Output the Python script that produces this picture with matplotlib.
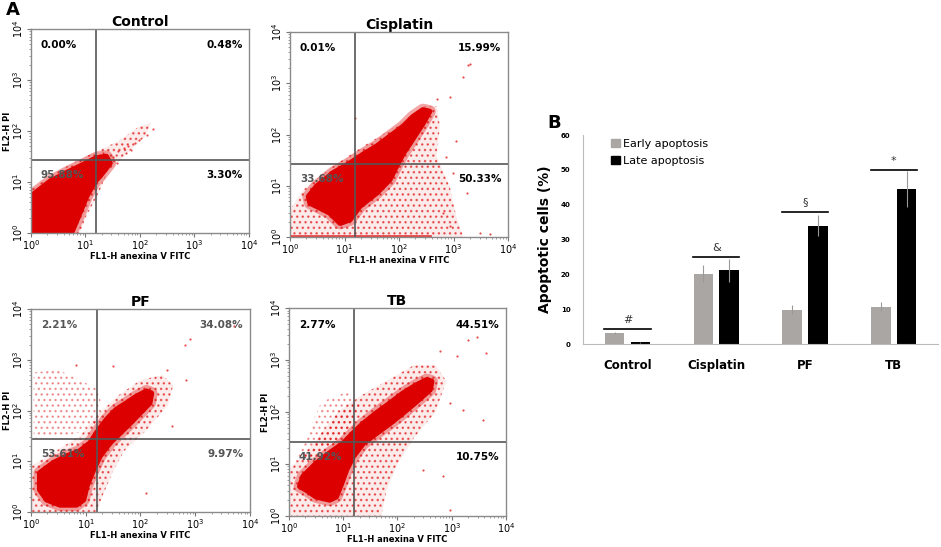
import matplotlib.pyplot as plt
import numpy as np
from matplotlib.patches import Polygon, Patch

# ---------------- data (log10 decades) ----------------
quad_x = 1.2      # vertical gate, log10 FL1
quad_y = 1.43     # horizontal gate, log10 FL2

control_core = [(0, 0), (0, 0.72), (0.35, 1.01), (0.65, 1.18), (0.96, 1.34), (1.20, 1.47),
                (1.38, 1.50), (1.45, 1.37), (1.26, 1.11), (1.17, 1.01), (1.02, 0.72),
                (0.87, 0.33), (0.74, 0)]
control_halo = [(0, 0), (0, 0.85), (0.4, 1.15), (0.9, 1.45), (1.25, 1.62), (1.6, 1.8),
                (2.0, 2.1), (2.2, 2.15), (2.1, 1.9), (1.7, 1.5), (1.4, 1.2), (1.25, 0.8),
                (1.0, 0.3), (0.9, 0)]
control_dots = [(1.51, 1.50), (1.60, 1.60), (1.70, 1.67), (1.78, 1.70), (1.84, 1.63),
                (1.90, 1.76), (1.99, 1.83), (2.12, 1.93), (2.24, 2.04), (1.32, 1.56),
                (1.75, 1.57), (1.57, 1.37)]

cis_core = [(0.34, 0.79), (0.49, 0.99), (0.79, 1.25), (1.10, 1.44), (1.34, 1.61), (1.59, 1.77),
            (1.83, 1.96), (2.08, 2.16), (2.26, 2.35), (2.44, 2.48), (2.56, 2.45), (2.44, 2.22),
            (2.20, 1.83), (2.08, 1.64), (1.95, 1.38), (1.83, 1.12), (1.59, 0.86), (1.28, 0.60),
            (1.10, 0.34), (0.92, 0.27), (0.73, 0.47), (0.49, 0.60), (0.37, 0.66)]
cis_halo = [(0, 0), (0, 0.53), (0.24, 0.92), (0.79, 1.38), (1.34, 1.77), (1.95, 2.16),
            (2.44, 2.55), (2.69, 2.55), (2.75, 2.16), (2.69, 1.57), (2.93, 0.99), (3.05, 0.40),
            (3.18, 0)]
cis_dots = [(3.27, 3.36), (3.31, 3.38), (3.18, 3.13), (2.93, 2.74), (2.69, 2.69), (3.05, 1.87),
            (3.24, 0.86), (2.99, 1.25), (2.87, 1.57), (1.19, 2.32), (3.48, 0.08), (3.66, 0.05),
            (2.81, 0.47), (2.93, 0.21)]

pf_core = [(0.16, 0.77), (0.41, 0.97), (0.65, 1.10), (0.89, 1.20), (1.08, 1.36), (1.20, 1.56),
           (1.38, 1.82), (1.56, 2.02), (1.75, 2.15), (1.93, 2.28), (2.11, 2.38), (2.20, 2.34),
           (2.17, 2.15), (1.99, 1.95), (1.81, 1.75), (1.63, 1.56), (1.44, 1.36), (1.26, 1.10),
           (1.14, 0.83), (1.02, 0.51), (0.96, 0.24), (0.83, 0.14), (0.53, 0.14), (0.29, 0.24),
           (0.16, 0.44)]
pf_halo = [(0, 0), (0, 0.9), (0.3, 1.1), (0.9, 1.5), (1.2, 1.9), (1.6, 2.3), (2.0, 2.6),
           (2.4, 2.7), (2.6, 2.5), (2.5, 2.1), (2.1, 1.6), (1.7, 1.2), (1.5, 0.8), (1.3, 0.3),
           (1.2, 0)]
pf_side = [(0.05, 1.45), (0.05, 2.75), (0.5, 2.8), (0.9, 2.6), (1.25, 2.4), (1.3, 1.8),
           (1.0, 1.6), (0.6, 1.5)]
pf_dots = [(3.70, 3.66), (2.90, 3.40), (2.81, 3.30), (2.48, 2.80), (2.84, 2.61), (2.57, 1.69),
           (2.11, 0.37), (1.50, 2.87), (0.83, 2.90)]

tb_core = [(0.26, 0.76), (0.50, 1.01), (0.75, 1.21), (1.00, 1.40), (1.18, 1.59), (1.37, 1.78),
           (1.61, 1.98), (1.86, 2.17), (2.10, 2.36), (2.35, 2.52), (2.54, 2.62), (2.63, 2.59),
           (2.60, 2.43), (2.35, 2.20), (2.10, 1.98), (1.86, 1.78), (1.61, 1.59), (1.37, 1.40),
           (1.18, 1.14), (1.06, 0.89), (0.97, 0.63), (0.87, 0.37), (0.75, 0.31), (0.50, 0.37),
           (0.32, 0.50), (0.20, 0.57)]
tb_halo = [(0, 0), (0, 0.9), (0.3, 1.2), (0.6, 1.6), (0.9, 2.0), (1.3, 2.3), (1.8, 2.6),
           (2.3, 2.9), (2.7, 2.9), (2.9, 2.6), (2.7, 2.0), (2.3, 1.5), (2.0, 1.0), (1.8, 0.5),
           (1.7, 0)]
tb_side = [(0.05, 1.0), (0.3, 1.5), (0.6, 2.2), (1.1, 2.4), (1.3, 2.1), (1.1, 1.6), (0.6, 1.2)]
tb_dots = [(3.30, 3.39), (3.46, 3.45), (3.64, 3.13), (3.09, 3.07), (2.78, 3.17), (2.97, 2.17),
           (3.21, 2.04), (2.84, 0.76), (2.97, 0.12), (2.47, 0.89), (3.58, 1.85)]

# quadrant percentages: UL, UR, LL, LR
control_pct = ["0.00%", "0.48%", "95.88%", "3.30%"]
cis_pct = ["0.01%", "15.99%", "33.68%", "50.33%"]
pf_pct = ["2.21%", "34.08%", "53.61%", "9.97%"]
tb_pct = ["2.77%", "44.51%", "41.92%", "10.75%"]

# bar chart
groups = ["Control", "Cisplatin", "PF", "TB"]
early = [3.2, 20.2, 9.9, 10.7]
early_err = [0.3, 2.5, 1.2, 1.3]
late = [0.5, 21.2, 34.0, 44.5]
late_err = [0.2, 3.3, 3.0, 5.3]
sig_marks = ["#", "&", "§", "*"]
sig_level = [4.3, 25.0, 38.0, 50.0]

RED = "#dc0000"
fig = plt.figure(figsize=(9.41, 5.47), dpi=100)


def flow_panel(rect, title, core, halo, dots, pct, pct_grey, side=None, xlab="FL1-H anexina V FITC",
               ylab="FL2-H PI", base_line=None):
    ax = fig.add_axes(rect)
    ax.add_patch(Polygon(halo, closed=True, facecolor=RED, alpha=0.08, lw=0))
    ax.add_patch(Polygon(halo, closed=True, facecolor="none", edgecolor=RED, hatch="...", lw=0, alpha=0.55))
    if side is not None:
        ax.add_patch(Polygon(side, closed=True, facecolor="none", edgecolor=RED, hatch="...", lw=0, alpha=0.35))
    # soft fringe around the dense core, then the core itself
    ax.add_patch(Polygon(core, closed=True, facecolor="none", edgecolor=RED, lw=9, alpha=0.35,
                         joinstyle="round"))
    ax.add_patch(Polygon(core, closed=True, facecolor=RED, edgecolor=RED, lw=4, joinstyle="round"))
    dx = [p[0] for p in dots]
    dy = [p[1] for p in dots]
    ax.scatter(dx, dy, s=2.5, color=RED, alpha=0.7, lw=0)
    if base_line is not None:
        ax.plot([0, base_line], [0.02, 0.02], color=RED, lw=2, alpha=0.7)
    ax.axvline(quad_x, color="#555555", lw=1.2)
    ax.axhline(quad_y, color="#555555", lw=1.2)
    ax.set_xlim(0, 4)
    ax.set_ylim(0, 4)
    ticks = [0, 1, 2, 3, 4]
    labs = [r"$10^{%d}$" % t for t in ticks]
    ax.set_xticks(ticks)
    ax.set_xticklabels(labs, fontsize=7)
    ax.set_yticks(ticks)
    ax.set_yticklabels(labs, fontsize=7, rotation=90, va="center")
    minor = [k + np.log10(m) for k in range(4) for m in range(2, 10)]
    ax.set_xticks(minor, minor=True)
    ax.set_yticks(minor, minor=True)
    ax.tick_params(which="major", length=3, width=0.8, color="#777777", pad=1)
    ax.tick_params(which="minor", length=1.5, width=0.5, color="#777777")
    for s in ax.spines.values():
        s.set_color("#8a8a8a")
        s.set_linewidth(1.0)
        s.set_zorder(5)
    ax.set_xlabel(xlab, fontsize=6, fontweight="bold", labelpad=0)
    if ylab:
        ax.set_ylabel(ylab, fontsize=6, fontweight="bold", labelpad=0)
    ax.set_title(title, fontsize=10, fontweight="bold", pad=2)
    cols = ["#555555" if g else "black" for g in pct_grey]
    ax.text(0.18, 3.68, pct[0], fontsize=7.5, fontweight="bold", color=cols[0], va="center")
    ax.text(3.88, 3.68, pct[1], fontsize=7.5, fontweight="bold", color=cols[1], va="center", ha="right")
    ax.text(0.18, 1.14, pct[2], fontsize=7.5, fontweight="bold", color=cols[2], va="center")
    ax.text(3.88, 1.14, pct[3], fontsize=7.5, fontweight="bold", color=cols[3], va="center", ha="right")
    return ax


flow_panel([0.0329, 0.574, 0.2317, 0.373], "Control", control_core, control_halo, control_dots,
           control_pct, [0, 0, 1, 0])
flow_panel([0.3082, 0.5667, 0.2317, 0.3748], "Cisplatin", cis_core, cis_halo, cis_dots,
           cis_pct, [0, 0, 1, 0], ylab=None, base_line=2.56)
flow_panel([0.0329, 0.064, 0.2327, 0.371], "PF", pf_core, pf_halo, pf_dots,
           pf_pct, [1, 1, 1, 1], side=pf_side)
flow_panel([0.3071, 0.0567, 0.2306, 0.380], "TB", tb_core, tb_halo, tb_dots,
           tb_pct, [0, 0, 1, 0], side=tb_side)

fig.text(0.006, 0.999, "A", fontsize=13, fontweight="bold", va="top")
fig.text(0.582, 0.775, "B", fontsize=13, fontweight="bold", va="center")

# ---------------- bar chart ----------------
axb = fig.add_axes([0.6196, 0.3711, 0.3773, 0.382])
x = np.arange(len(groups))
w = 0.22
axb.bar(x - 0.145, early, w, color="#a9a6a4")
axb.bar(x + 0.145, late, w, color="black")
axb.errorbar(x - 0.145, early, yerr=early_err, fmt="none", ecolor="#999999", elinewidth=0.8)
axb.errorbar(x + 0.145, late, yerr=late_err, fmt="none", ecolor="#999999", elinewidth=0.8)
for i in range(len(groups)):
    axb.plot([x[i] - 0.26, x[i] + 0.26], [sig_level[i], sig_level[i]], color="black", lw=1.2)
    axb.text(x[i], sig_level[i] + 1.2, sig_marks[i], ha="center", va="bottom", fontsize=8, color="#333333")
axb.set_xlim(-0.5, 3.5)
axb.set_ylim(0, 60)
axb.set_yticks(range(0, 61, 10))
axb.set_yticklabels([str(v) for v in range(0, 61, 10)], fontsize=5, fontweight="bold")
axb.set_xticks(x)
axb.set_xticklabels(groups, fontsize=8.5, fontweight="bold")
axb.tick_params(axis="x", length=0, pad=11)
axb.tick_params(axis="y", length=0, pad=9)
axb.spines["top"].set_visible(False)
axb.spines["right"].set_visible(False)
axb.spines["left"].set_color("#bbbbbb")
axb.spines["bottom"].set_color("#bbbbbb")
axb.set_ylabel("Apoptotic cells (%)", fontsize=10, fontweight="bold", labelpad=6)
handles = [Patch(color="#a9a6a4", label="Early apoptosis"), Patch(color="black", label="Late apoptosis")]
axb.legend(handles=handles, loc="upper left", bbox_to_anchor=(0.05, 1.03), frameon=False,
           fontsize=8, handlelength=0.8, handleheight=0.8, handletextpad=0.3, labelspacing=0.6)

fig.savefig("out.png", dpi=100)
